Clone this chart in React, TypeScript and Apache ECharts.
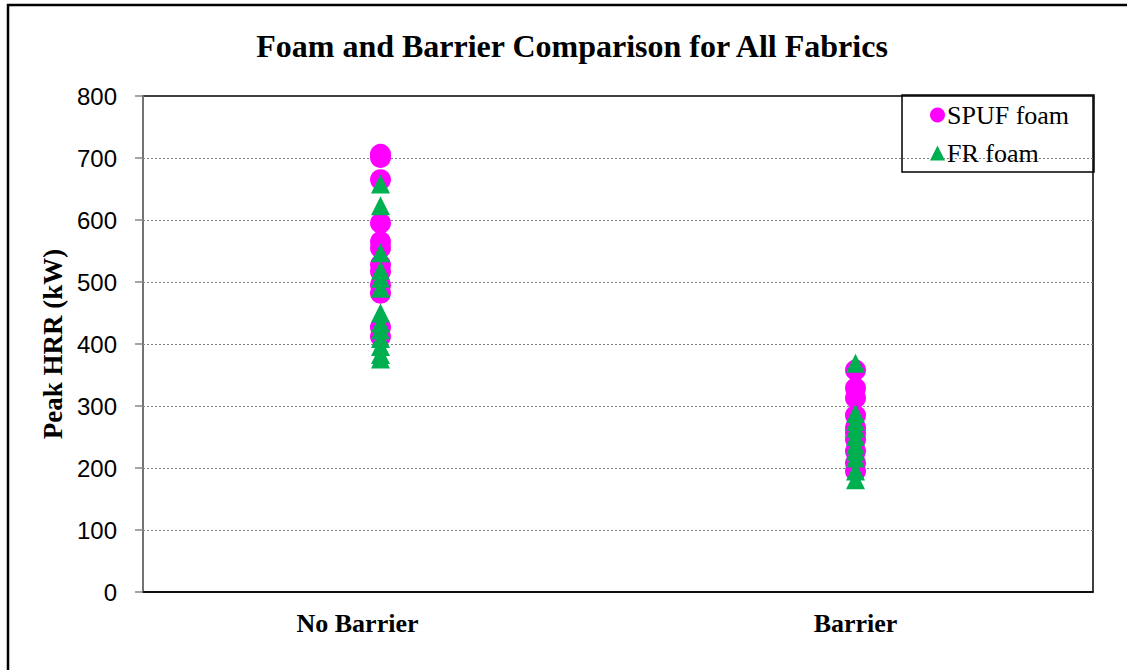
import React, { useEffect, useRef } from "react";
import * as echarts from "echarts";

const categories = ["No Barrier", "Barrier"];
const yTicks = [0, 100, 200, 300, 400, 500, 600, 700, 800];

const spufNoBarrier = [706, 701, 665, 595, 565, 555, 528, 517, 495, 482, 427, 412];
const spufBarrier = [358, 329, 313, 285, 265, 256, 246, 227, 208, 195];
const frNoBarrier = [658, 623, 547, 519, 506, 490, 450, 434, 423, 409, 396, 383, 376];
const frBarrier = [369, 288, 275, 264, 251, 237, 227, 216, 195, 181];

const toPoints = (cat: string, vals: number[]) => vals.map((v) => [cat, v]);

export default function App() {
  const ref = useRef<HTMLDivElement>(null);
  useEffect(() => {
    if (!ref.current) return;
    const chart = echarts.init(ref.current, undefined, { renderer: "svg" });
    const serif = "'Liberation Serif', 'Times New Roman', serif";
    const catLabel = { fontFamily: serif, fontWeight: "bold", fontSize: 26, color: "#000" };
    chart.setOption({
      animation: false,
      backgroundColor: "#ffffff",
      title: {
        text: "Foam and Barrier Comparison for All Fabrics",
        left: 567,
        textAlign: "center",
        top: 25,
        textStyle: { fontFamily: serif, fontWeight: "bold", fontSize: 32, color: "#000" },
      },
      grid: {
        left: 143,
        right: 34,
        top: 96,
        bottom: 78,
        show: true,
        borderColor: "#000",
        borderWidth: 1.5,
        backgroundColor: "transparent",
      },
      legend: {
        left: 925,
        top: 97,
        orient: "vertical",
        itemWidth: 15,
        itemHeight: 15,
        itemGap: 12,
        textStyle: { fontFamily: serif, fontSize: 26, color: "#000", lineHeight: 26, padding: [0, 0, 0, -3] },
        data: [
          { name: "SPUF foam", icon: "circle", itemStyle: { opacity: 1 } },
          { name: "FR foam", icon: "triangle", itemStyle: { opacity: 1 } },
        ],
      },
      xAxis: {
        type: "category",
        data: categories,
        boundaryGap: true,
        axisLine: { lineStyle: { color: "#000", width: 1.5 } },
        axisTick: { show: false },
        splitLine: { show: false },
        axisLabel: {
          margin: 18,
          formatter: (v: string) => (v === categories[0] ? `{a|${v}}` : `{b|${v}}`),
          rich: {
            a: { ...catLabel, padding: [0, 46, 0, 0] },
            b: { ...catLabel },
          },
        },
      },
      yAxis: {
        type: "value",
        min: yTicks[0],
        max: yTicks[yTicks.length - 1],
        interval: 100,
        name: "Peak HRR (kW)",
        nameLocation: "middle",
        nameGap: 76,
        nameTextStyle: { fontFamily: serif, fontWeight: "bold", fontSize: 27, color: "#000" },
        axisLine: { show: true, lineStyle: { color: "#868686", width: 1.5 } },
        axisTick: { show: true, length: 8, lineStyle: { color: "#868686", width: 1.5 } },
        axisLabel: {
          margin: 26,
          fontFamily: "'Liberation Sans', Arial, sans-serif",
          fontSize: 24,
          color: "#000",
        },
        splitLine: {
          show: true,
          showMinLine: false,
          showMaxLine: false,
          lineStyle: { color: "#808080", type: [2, 2], width: 1 },
        },
      },
      series: [
        {
          name: "SPUF foam",
          type: "scatter",
          symbol: "circle",
          symbolSize: 21,
          itemStyle: { color: "#FF00FF", opacity: 1 },
          data: [...toPoints(categories[0], spufNoBarrier), ...toPoints(categories[1], spufBarrier)],
          z: 2,
        },
        {
          name: "FR foam",
          type: "scatter",
          symbol: "triangle",
          symbolSize: 19,
          itemStyle: { color: "#00B050", opacity: 1 },
          data: [...toPoints(categories[0], frNoBarrier), ...toPoints(categories[1], frBarrier)],
          z: 3,
        },
      ],
      graphic: [
        {
          type: "rect",
          shape: { x: 902, y: 95, width: 192, height: 77 },
          style: { fill: "transparent", stroke: "#000", lineWidth: 1.5 },
          z: 10,
        },
        {
          type: "line",
          shape: { x1: 8, y1: 4, x2: 8, y2: 670 },
          style: { stroke: "#000", lineWidth: 2.5 },
        },
        {
          type: "line",
          shape: { x1: 7, y1: 5, x2: 1127, y2: 5 },
          style: { stroke: "#000", lineWidth: 2.5 },
        },
      ],
    });
    return () => chart.dispose();
  }, []);
  return (
    <div
      ref={ref}
      style={{ position: "fixed", left: 0, top: 0, width: 1127, height: 670 }}
    />
  );
}
